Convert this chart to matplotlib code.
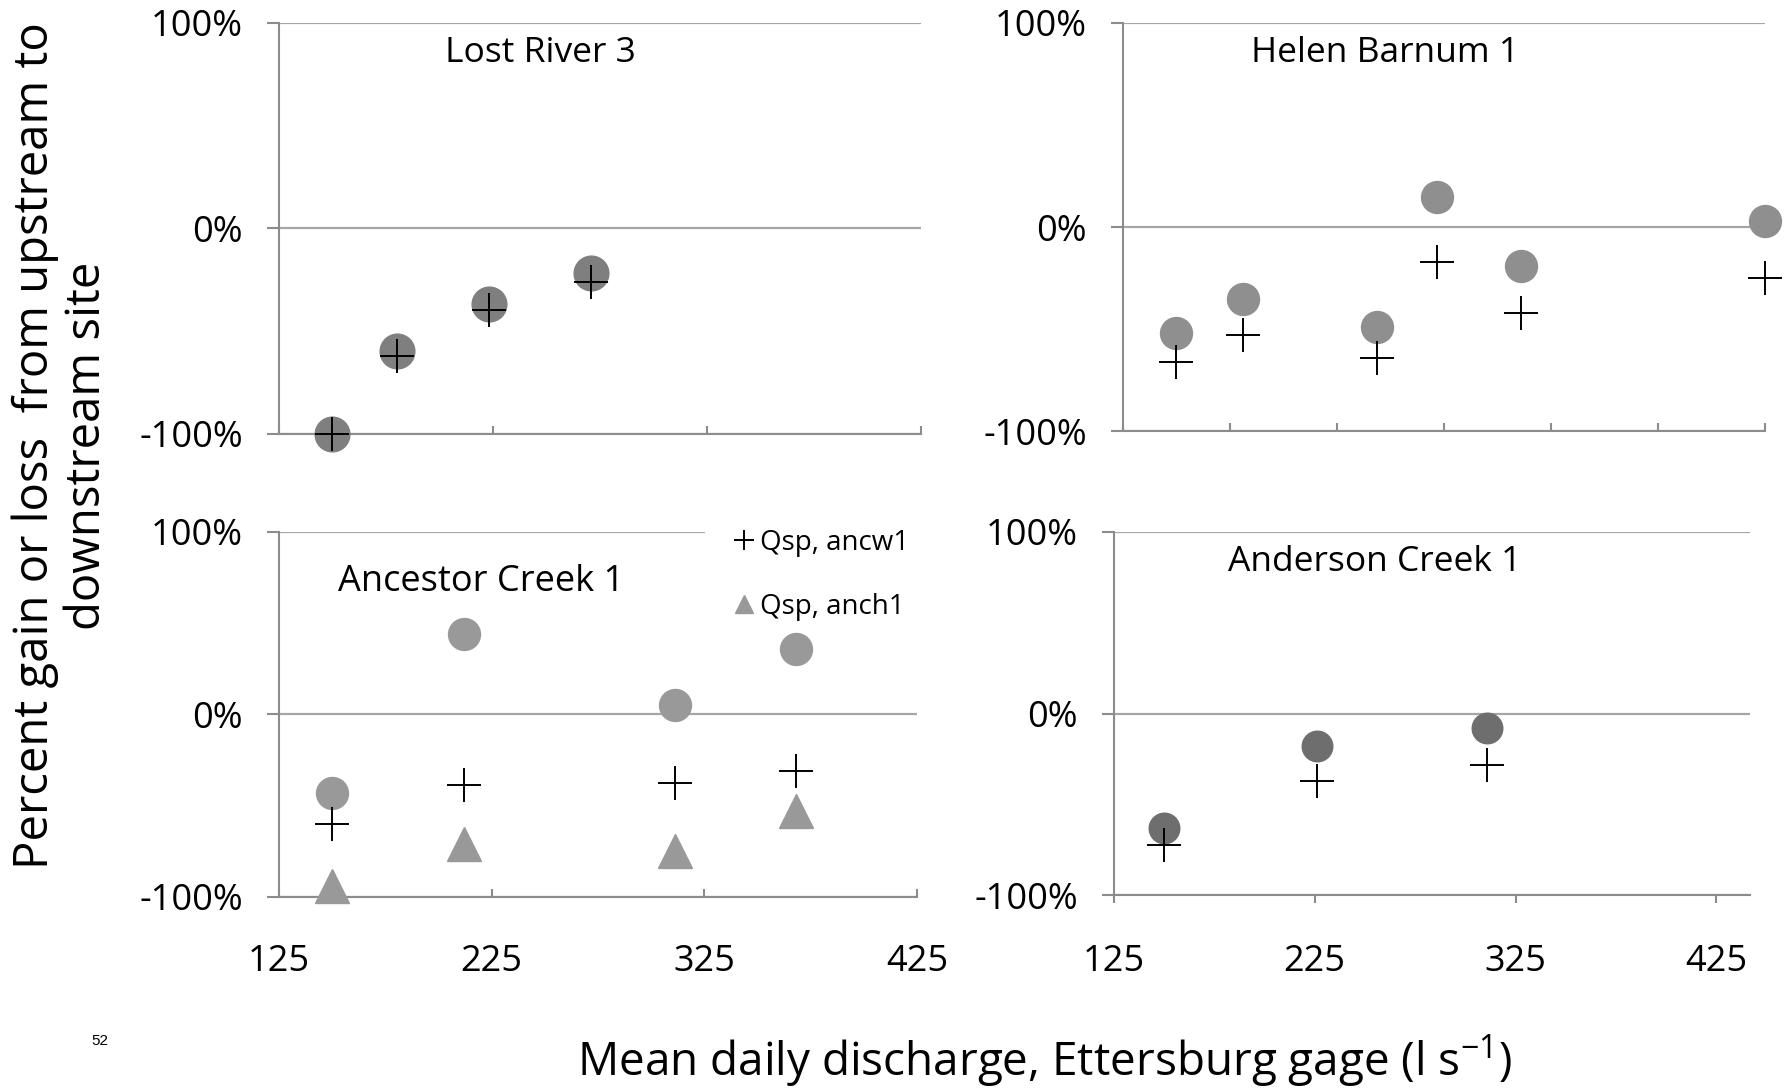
import matplotlib
matplotlib.use("Agg")
import matplotlib.pyplot as plt
from matplotlib.lines import Line2D

plt.rcParams['font.family'] = ['Open Sans', 'DejaVu Sans']

# ---------------- data ----------------
# Lost River 3
lr_x = [150, 180, 223, 271]
lr_circ = [-100, -60, -37, -22]
lr_plus = [-100, -62, -40, -26]

# Helen Barnum 1
hb_x = [150, 181, 244, 272, 311, 425]
hb_circ = [-52, -35, -49, 15, -19, 3]
hb_plus = [-66, -53, -64, -17, -42, -25]

# Ancestor Creek 1
ac_x = [150, 212, 311, 368]
ac_circ = [-43, 44, 5, 36]
ac_plus = [-60, -39, -38, -31]
ac_tri = [-94, -71, -75, -53]

# Anderson Creek 1
an_x = [150, 226, 311]
an_circ = [-63, -18, -8]
an_plus = [-72, -37, -28]

yticks = [-100, 0, 100]
ytick_labels = ['-100%', '0%', '100%']
xticks_major = [125, 225, 325, 425]
xticks_hb = [125, 175, 225, 275, 325, 375, 425]

fig = plt.figure(figsize=(17.88, 10.92), dpi=100)

AX_GRAY = '#8c8c8c'
GRID_GRAY = '#a6a6a6'

def style(ax, xlim, xticks, show_xlabels, xtick_dir):
    ax.set_xlim(*xlim)
    ax.set_ylim(-100, 100)
    for s in ['top', 'right']:
        ax.spines[s].set_visible(False)
    for s in ['left', 'bottom']:
        ax.spines[s].set_color(AX_GRAY)
        ax.spines[s].set_linewidth(1.5)
    ax.set_yticks(yticks)
    ax.set_yticklabels(ytick_labels)
    ax.set_xticks(xticks)
    if show_xlabels:
        ax.set_xticklabels([str(v) for v in xticks])
    else:
        ax.set_xticklabels([])
    ax.tick_params(axis='y', direction='out', length=9, width=1.5, color=AX_GRAY,
                   labelsize=26, pad=17)
    xpad = 34 if xtick_dir == 'in' else 29
    ax.tick_params(axis='x', direction=xtick_dir, length=6, width=1.5, color=AX_GRAY,
                   labelsize=26, pad=xpad)
    ax.yaxis.grid(True, color=GRID_GRAY, linewidth=1.6)
    ax.set_axisbelow(True)
    for lab in ax.get_yticklabels() + ax.get_xticklabels():
        lab.set_fontstretch('semi-condensed')

# Top-left: Lost River 3
ax1 = fig.add_axes([0.156, 0.603, 0.359, 0.376])
style(ax1, (125, 425), xticks_major, False, 'in')
ax1.plot(lr_x, lr_circ, 'o', color='#7f7f7f', markersize=25, clip_on=False, zorder=3)
ax1.plot(lr_x, lr_plus, '+', color='black', markersize=24, mew=1.4, clip_on=False, zorder=4)
ax1.text(0.407, 0.926, 'Lost River 3', transform=ax1.transAxes, ha='center', va='center',
         fontsize=25.5)

# Top-right: Helen Barnum 1
ax2 = fig.add_axes([0.628, 0.605, 0.359, 0.374])
style(ax2, (125, 425), xticks_hb, False, 'in')
ax2.plot(hb_x, hb_circ, 'o', color='#8f8f8f', markersize=23, clip_on=False, zorder=3)
ax2.plot(hb_x, hb_plus, '+', color='black', markersize=25, mew=1.4, clip_on=False, zorder=4)
ax2.text(0.409, 0.926, 'Helen Barnum 1', transform=ax2.transAxes, ha='center', va='center',
         fontsize=25.5)

# Bottom-left: Ancestor Creek 1
ax3 = fig.add_axes([0.156, 0.179, 0.357, 0.334])
style(ax3, (125, 425), xticks_major, True, 'in')
ax3.plot(ac_x, ac_circ, 'o', color='#999999', markersize=23, clip_on=False, zorder=3)
ax3.plot(ac_x, ac_plus, '+', color='black', markersize=24, mew=1.4, clip_on=False, zorder=4,
         label='Qsp, ancw1')
ax3.plot(ac_x, ac_tri, '^', color='#999999', markersize=24, clip_on=False, zorder=3,
         label='Qsp, anch1')
ax3.text(0.317, 0.862, 'Ancestor Creek 1', transform=ax3.transAxes, ha='center', va='center',
         fontsize=26)
handles = [Line2D([], [], marker='+', color='black', linestyle='none', markersize=14, mew=1.4),
           Line2D([], [], marker='^', color='#999999', linestyle='none', markersize=13)]
leg = ax3.legend(handles, ['Qsp, ancw1', 'Qsp, anch1'], loc='upper left',
                 bbox_to_anchor=(0.667, 1.085), frameon=True, fontsize=20,
                 handlelength=0.8, handletextpad=0.2, labelspacing=1.3,
                 borderpad=1.0, borderaxespad=0)
leg.get_frame().set_facecolor('white')
leg.get_frame().set_edgecolor('none')
leg.get_frame().set_alpha(1)
leg.set_zorder(2)

# Bottom-right: Anderson Creek 1
ax4 = fig.add_axes([0.623, 0.180, 0.356, 0.333])
style(ax4, (125, 442), xticks_major, True, 'out')
ax4.plot(an_x, an_circ, 'o', color='#6e6e6e', markersize=22, clip_on=False, zorder=3)
ax4.plot(an_x, an_plus, '+', color='black', markersize=24, mew=1.4, clip_on=False, zorder=4)
ax4.text(0.41, 0.917, 'Anderson Creek 1', transform=ax4.transAxes, ha='center', va='center',
         fontsize=25.5)

fig.text(0.0345, 0.592, 'Percent gain or loss  from upstream to\ndownstream site',
         rotation=90, ha='center', va='center', fontsize=34, linespacing=1.12)
fig.text(0.584, 0.028, 'Mean daily discharge, Ettersburg gage (l s$^{\\mathregular{-1}}$)',
         ha='center', va='center', fontsize=33)
fig.text(0.056, 0.047, '52', ha='center', va='center', fontsize=11,
         family=['Liberation Sans', 'DejaVu Sans'])

fig.savefig('out.png', dpi=100)
